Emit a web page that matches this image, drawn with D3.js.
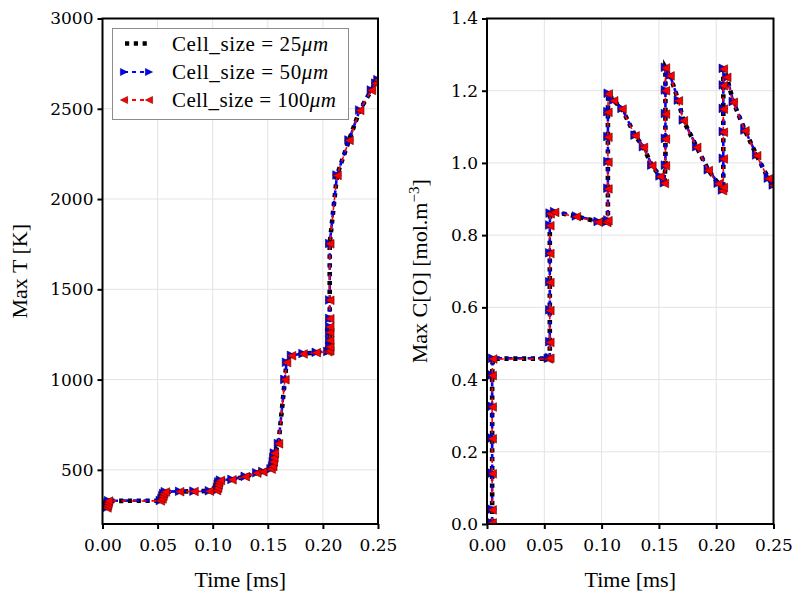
<!DOCTYPE html>
<html>
<head>
<meta charset="utf-8">
<script src="https://cdn.jsdelivr.net/npm/d3@7"></script>
<style>
  html, body { margin: 0; padding: 0; background: #fff; }
  svg { display: block; }
  .tick text { font-family: "DejaVu Serif", serif; font-size: 17px; fill: #000; }
</style>
</head>
<body>
<svg id="chart" width="795" height="592"></svg>
<script>
// ---------------- DATA ----------------
const seriesNames = ["25", "50", "100"];
const xTicks = [0.00, 0.05, 0.10, 0.15, 0.20, 0.25];
const tTicks = [500, 1000, 1500, 2000, 2500, 3000];
const cTicks = [0.0, 0.2, 0.4, 0.6, 0.8, 1.0, 1.2, 1.4];

// Left panel: Max T [K] vs time [ms]
const timeT = [0.004, 0.0045, 0.005, 0.0055, 0.0525, 0.054, 0.0548, 0.0555, 0.057, 0.070,
  0.083, 0.097, 0.1035, 0.1045, 0.105, 0.1055, 0.107, 0.1175, 0.1295, 0.140,
  0.1455, 0.153, 0.1545, 0.155, 0.1555, 0.156, 0.1597, 0.1655, 0.167,
  0.1715, 0.182, 0.194, 0.2045, 0.2062, 0.2062, 0.2062, 0.2062, 0.2062, 0.2062,
  0.2062, 0.2062, 0.2128, 0.2237, 0.2334, 0.244, 0.248, 0.250];
const maxT_25 = [290, 302, 316, 328, 329, 340, 355, 368, 378, 380,
  381, 383, 386, 400, 418, 432, 442, 446, 463, 483,
  490, 505, 520, 545, 568, 592, 645, 1000, 1095,
  1133, 1143, 1150, 1155, 1160, 1182, 1218, 1262, 1292, 1338,
  1440, 1753, 2132, 2326, 2492, 2603, 2641, 2660];
const maxT_50 = [291, 303, 317, 329, 330, 341, 356, 369, 379, 381,
  382, 384, 387, 401, 419, 433, 443, 447, 464, 484,
  491, 506, 521, 546, 569, 593, 646, 1001, 1096,
  1134, 1144, 1151, 1156, 1161, 1183, 1219, 1263, 1293, 1339,
  1441, 1754, 2133, 2327, 2493, 2604, 2642, 2661];
const maxT_100 = [289, 301, 315, 327, 328, 339, 354, 367, 377, 379,
  380, 382, 385, 399, 417, 431, 441, 445, 462, 482,
  489, 504, 519, 544, 567, 591, 644, 999, 1094,
  1132, 1142, 1149, 1154, 1159, 1181, 1217, 1261, 1291, 1337,
  1439, 1752, 2131, 2325, 2491, 2602, 2640, 2659];

// Right panel: Max C[O] vs time [ms]
const timeC = [0.0045, 0.0045, 0.0045, 0.0045, 0.0045, 0.0045, 0.005, 0.0535, 0.0548, 0.0548,
  0.0548, 0.0548, 0.0548, 0.0548, 0.0551, 0.059, 0.078, 0.097, 0.1045, 0.1055,
  0.1055, 0.1055, 0.1055, 0.1055, 0.1058, 0.1105, 0.1178, 0.1292, 0.1365, 0.1438,
  0.151, 0.1548, 0.1557, 0.1557, 0.1557, 0.1557, 0.1557, 0.1597, 0.167, 0.1713,
  0.183, 0.1931, 0.2018, 0.2055, 0.2062, 0.2062, 0.2062, 0.2062, 0.2062, 0.2062,
  0.2092, 0.2149, 0.2251, 0.2353, 0.2455, 0.2498];
const maxC_25 = [0.003, 0.040, 0.140, 0.237, 0.325, 0.412, 0.458, 0.458, 0.460, 0.504,
  0.592, 0.670, 0.750, 0.827, 0.860, 0.864, 0.852, 0.837, 0.836, 0.841,
  0.929, 1.003, 1.072, 1.141, 1.192, 1.173, 1.150, 1.076, 1.044, 0.993,
  0.963, 0.944, 0.993, 1.067, 1.136, 1.201, 1.264, 1.242, 1.173, 1.118,
  1.044, 0.980, 0.943, 0.924, 0.933, 1.012, 1.086, 1.150, 1.215, 1.261,
  1.238, 1.169, 1.090, 1.021, 0.957, 0.938];
const maxC_50 = [0.003, 0.041, 0.141, 0.238, 0.326, 0.413, 0.459, 0.459, 0.461, 0.505,
  0.593, 0.671, 0.751, 0.828, 0.861, 0.865, 0.853, 0.838, 0.837, 0.842,
  0.930, 1.004, 1.073, 1.142, 1.193, 1.174, 1.151, 1.077, 1.045, 0.994,
  0.964, 0.945, 0.994, 1.068, 1.137, 1.202, 1.265, 1.243, 1.174, 1.119,
  1.045, 0.981, 0.944, 0.925, 0.934, 1.013, 1.087, 1.151, 1.216, 1.262,
  1.239, 1.170, 1.091, 1.022, 0.958, 0.939];
const maxC_100 = [0.003, 0.039, 0.139, 0.236, 0.324, 0.411, 0.457, 0.457, 0.459, 0.503,
  0.591, 0.669, 0.749, 0.826, 0.859, 0.863, 0.851, 0.836, 0.835, 0.840,
  0.928, 1.002, 1.071, 1.140, 1.191, 1.172, 1.149, 1.075, 1.043, 0.992,
  0.962, 0.943, 0.992, 1.066, 1.135, 1.200, 1.263, 1.241, 1.172, 1.117,
  1.043, 0.979, 0.942, 0.923, 0.932, 1.011, 1.085, 1.149, 1.214, 1.260,
  1.237, 1.168, 1.089, 1.020, 0.956, 0.937];

// ---------------- DRAW ----------------
const svg = d3.select("#chart");

const styles = [
  { color: "#000000", width: 4.6, dash: "4.2,4.6", marker: null },
  { color: "#0000ff", width: 2.6, dash: "6,4.5", marker: "right" },
  { color: "#ff0000", width: 1.6, dash: "5,5", marker: "left" }
];
const MS = 4.3;

function triPath(dir, s) {
  return dir === "right"
    ? `M${-s},${-s}L${s},0L${-s},${s}Z`
    : `M${s},${-s}L${-s},0L${s},${s}Z`;
}

function panel(opts) {
  const { x0, x1, y0, y1, yDomain, yTicks, yFmt, times, series, ylabel, id } = opts;
  const g = svg.append("g");
  const x = d3.scaleLinear().domain([0, 0.25]).range([x0, x1]);
  const y = d3.scaleLinear().domain(yDomain).range([y1, y0]);

  // grid
  g.append("g").selectAll("line").data(xTicks).join("line")
    .attr("x1", d => x(d)).attr("x2", d => x(d)).attr("y1", y0).attr("y2", y1)
    .attr("stroke", "#e3e3e3").attr("stroke-width", 1);
  g.append("g").selectAll("line").data(yTicks).join("line")
    .attr("x1", x0).attr("x2", x1).attr("y1", d => y(d)).attr("y2", d => y(d))
    .attr("stroke", "#e3e3e3").attr("stroke-width", 1);

  // clip
  svg.append("clipPath").attr("id", id).append("rect")
    .attr("x", x0).attr("y", y0).attr("width", x1 - x0).attr("height", y1 - y0);

  const data = g.append("g").attr("clip-path", `url(#${id})`);
  series.forEach((vals, i) => {
    const st = styles[i];
    const pts = times.map((t, k) => [t, vals[k]]);
    data.append("path").datum(pts)
      .attr("d", d3.line().x(d => x(d[0])).y(d => y(d[1])))
      .attr("fill", "none").attr("stroke", st.color)
      .attr("stroke-width", st.width).attr("stroke-dasharray", st.dash);
    if (st.marker) {
      data.append("g").selectAll("path").data(pts).join("path")
        .attr("transform", d => `translate(${x(d[0])},${y(d[1])})`)
        .attr("d", triPath(st.marker, MS))
        .attr("fill", st.color)
        .attr("stroke", i === 1 ? "#000055" : "#550000")
        .attr("stroke-width", 0.6);
    }
  });

  // axes
  const xAxis = d3.axisBottom(x).tickValues(xTicks).tickFormat(d3.format(".2f")).tickSize(5).tickPadding(7);
  const yAxis = d3.axisLeft(y).tickValues(yTicks).tickFormat(yFmt).tickSize(5).tickPadding(4);
  const gx = g.append("g").attr("transform", `translate(0,${y1})`).call(xAxis);
  const gy = g.append("g").attr("transform", `translate(${x0},0)`).call(yAxis);
  [gx, gy].forEach(a => {
    a.select(".domain").remove();
    a.selectAll(".tick line").attr("stroke", "#000").attr("stroke-width", 2);
  });
  gx.selectAll(".tick text").attr("dy", "0.9em");

  // frame
  g.append("rect").attr("x", x0).attr("y", y0).attr("width", x1 - x0).attr("height", y1 - y0)
    .attr("fill", "none").attr("stroke", "#000").attr("stroke-width", 2);

  // labels
  g.append("text").attr("x", (x0 + x1) / 2).attr("y", 587)
    .attr("text-anchor", "middle").attr("font-family", "Liberation Serif, serif")
    .attr("font-size", 22).text("Time [ms]");
  const yl = g.append("text")
    .attr("transform", `translate(${opts.ylabelX},${(y0 + y1) / 2}) rotate(-90)`)
    .attr("text-anchor", "middle").attr("font-family", "Liberation Serif, serif")
    .attr("font-size", 22);
  ylabel(yl);
  return { x, y, g };
}

panel({
  id: "clipL", x0: 102.5, x1: 378, y0: 18.5, y1: 524,
  yDomain: [200, 3000], yTicks: tTicks, yFmt: d3.format("d"),
  times: timeT, series: [maxT_25, maxT_50, maxT_100],
  ylabelX: 27,
  ylabel: t => t.text("Max T [K]")
});

panel({
  id: "clipR", x0: 487, x1: 773.5, y0: 18.5, y1: 524,
  yDomain: [0, 1.4], yTicks: cTicks, yFmt: d3.format(".1f"),
  times: timeC, series: [maxC_25, maxC_50, maxC_100],
  ylabelX: 427,
  ylabel: t => {
    t.append("tspan").text("Max C[O] [mol.m");
    t.append("tspan").attr("dy", -8).attr("font-size", 15).text("\u22123");
    t.append("tspan").attr("dy", 8).text("]");
  }
});

// legend
const lg = svg.append("g");
lg.append("rect").attr("x", 112.5).attr("y", 28.5).attr("width", 236).attr("height", 91)
  .attr("fill", "#fff").attr("stroke", "#8c8c8c").attr("stroke-width", 1);
const rowsY = [43.5, 72, 100];
const textWidths = [156, 156, 164];
seriesNames.forEach((name, i) => {
  const st = styles[i];
  const yy = rowsY[i];
  if (i === 0) {
    lg.append("line").attr("x1", 125).attr("x2", 150).attr("y1", yy).attr("y2", yy)
      .attr("stroke", st.color).attr("stroke-width", st.width).attr("stroke-dasharray", st.dash);
  } else {
    lg.append("line").attr("x1", 124).attr("x2", 150).attr("y1", yy).attr("y2", yy)
      .attr("stroke", st.color).attr("stroke-width", 2).attr("stroke-dasharray", "4,4");
    [124, 149].forEach(px => {
      lg.append("path").attr("transform", `translate(${px},${yy})`)
        .attr("d", triPath(st.marker, 3.6)).attr("fill", st.color)
        .attr("stroke", i === 1 ? "#000055" : "#550000").attr("stroke-width", 0.5);
    });
  }
  const tx = lg.append("text").attr("x", 172).attr("y", yy + 7)
    .attr("font-family", "Liberation Serif, serif").attr("font-size", 21);
  tx.append("tspan").text("Cell_size = " + name);
  tx.append("tspan").attr("font-style", "italic").text("\u03bcm");
  const w = tx.node().getComputedTextLength();
  const n = tx.text().length;
  if (w > 0 && n > 1) tx.attr("letter-spacing", ((textWidths[i] - w) / (n - 1)).toFixed(2));
});
</script>
</body>
</html>
